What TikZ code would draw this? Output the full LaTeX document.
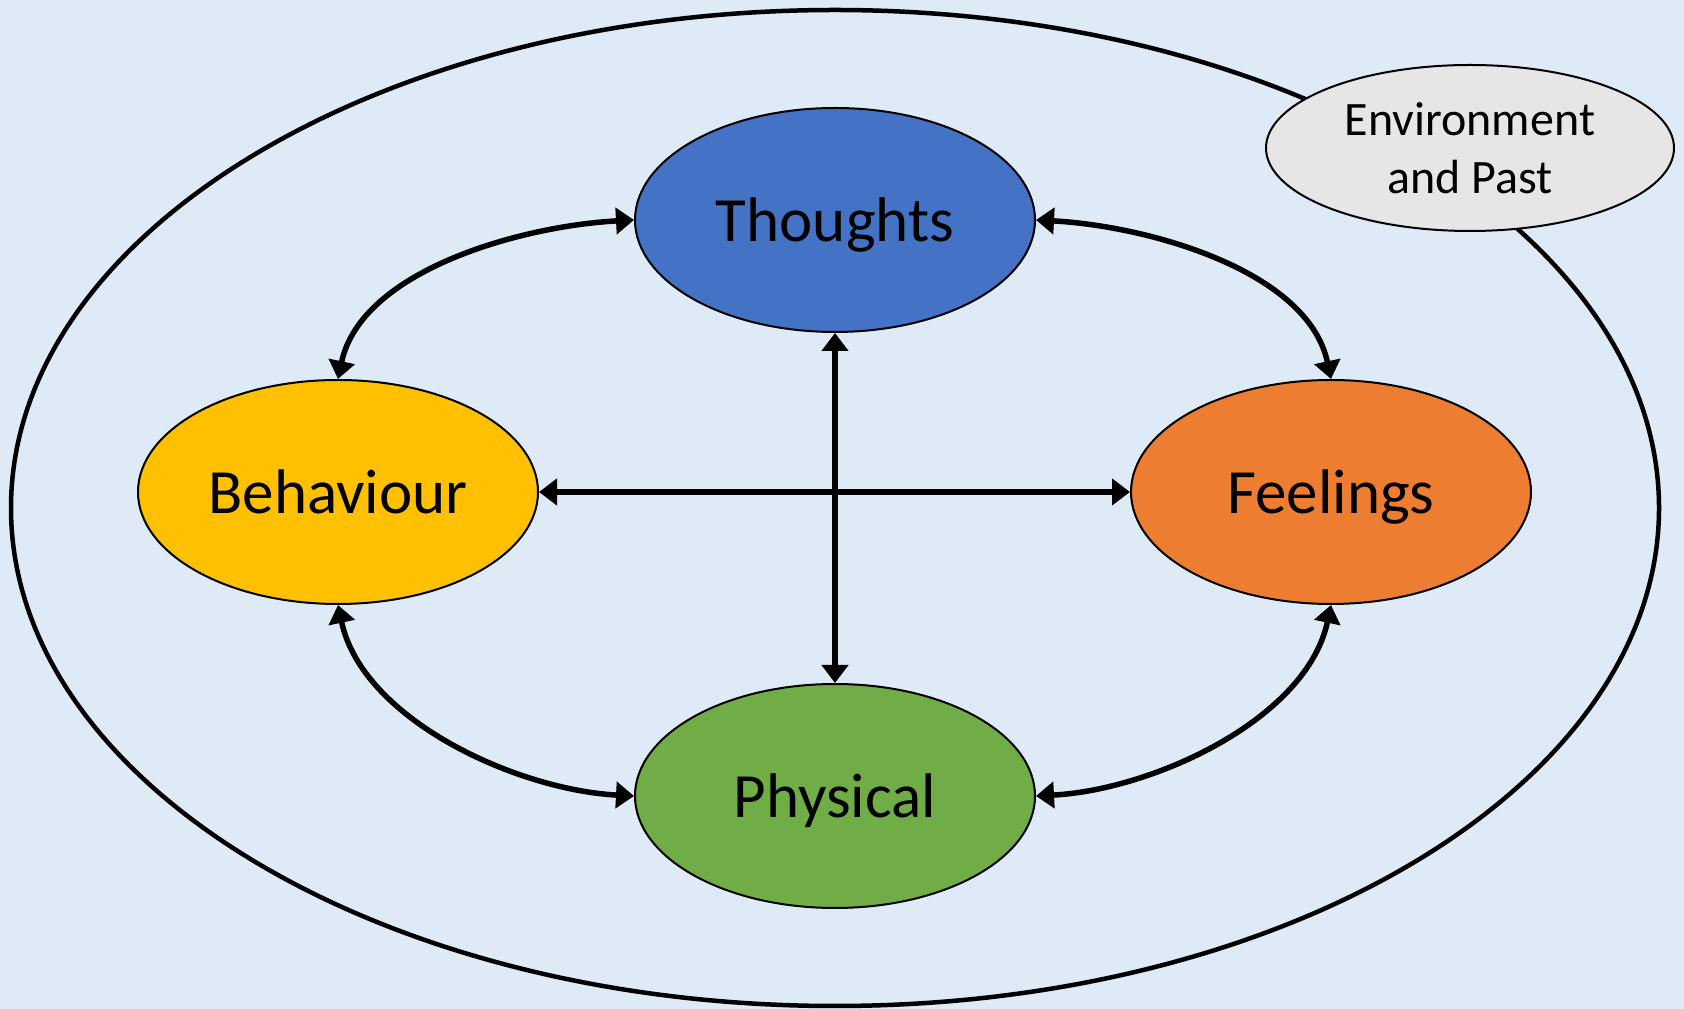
\documentclass[tikz,border=0pt]{standalone}
\usepackage{fontspec}
\setmainfont{Carlito}
\usetikzlibrary{arrows.meta, shapes.geometric}

\definecolor{bgblue}{HTML}{DEEAF6}
\definecolor{thoughtblue}{HTML}{4472C4}
\definecolor{behavgold}{HTML}{FFC000}
\definecolor{feelorange}{HTML}{ED7D31}
\definecolor{physgreen}{HTML}{70AD47}
\definecolor{envgrey}{HTML}{E7E6E6}

\begin{document}
\begin{tikzpicture}[
  x=1pt, y=1pt,
  bubble/.style={draw, ellipse, line width=2pt, minimum width=400pt, minimum height=224pt, inner sep=0pt, text depth=0pt, font=\fontsize{63}{70}\selectfont},
  link/.style={{Triangle[length=18pt, width=26pt]}-{Triangle[length=18pt, width=26pt]}, line width=5.5pt}
]

% Background
\fill[bgblue] (0,0) rectangle (1684,1009);
\useasboundingbox (0,0) rectangle (1684,1009);

% Outer ring
\node[draw, ellipse, line width=4.5pt, minimum width=1648pt, minimum height=996pt, inner sep=0pt] (world) at (835,501) {};

% Four bubbles
\node[bubble, fill=thoughtblue] (thoughts) at (835,789) {Thoughts};
\node[bubble, fill=behavgold] (behaviour) at (338,517) {Behaviour};
\node[bubble, fill=feelorange] (feelings) at (1331,517) {Feelings};
\node[bubble, fill=physgreen] (physical) at (835,213) {Physical};

% Environment label on the ring
\node[draw, ellipse, fill=envgrey, line width=2pt, minimum width=408pt, minimum height=166pt, inner sep=0pt, align=center, font=\fontsize{48}{58}\selectfont] (env) at (1470,861) {Environment\\and Past};

% Straight links
\draw[link] (behaviour.east) -- (feelings.west);
\draw[link] (thoughts.south) -- (physical.north);

% Curved links
\draw[link] (thoughts.west) to[out=183, in=78, looseness=0.85] (behaviour.north);
\draw[link] (thoughts.east) to[out=-3, in=102, looseness=0.85] (feelings.north);
\draw[link] (physical.west) to[out=177, in=-78, looseness=0.85] (behaviour.south);
\draw[link] (physical.east) to[out=3, in=-102, looseness=0.85] (feelings.south);

\end{tikzpicture}
\end{document}
